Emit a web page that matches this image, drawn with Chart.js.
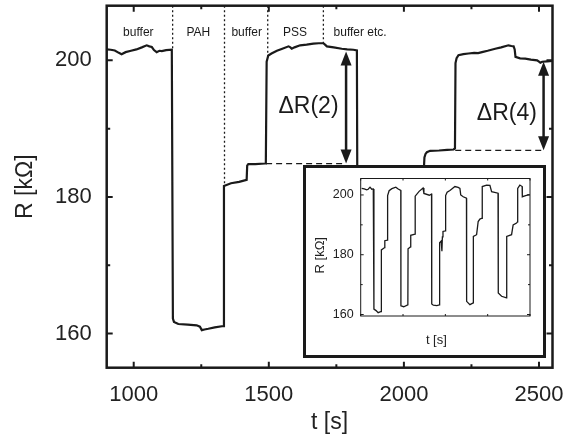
<!DOCTYPE html>
<html>
<head>
<meta charset="utf-8">
<script src="https://cdn.jsdelivr.net/npm/chart.js@4.4.1/dist/chart.umd.min.js"></script>
<style>
  body { margin: 0; background: #fff; }
  #wrap { position: relative; width: 572px; height: 442px; }
  canvas { display: block; }
  #inset { position: absolute; left: 303px; top: 165px; width: 237px; height: 187px;
           border: 3px solid #1a1a1a; background: #fff; }
</style>
</head>
<body>
<div id="wrap">
  <canvas id="mainChart" width="572" height="442"></canvas>
  <div id="inset"><canvas id="insetChart" width="237" height="187"></canvas></div>
</div>
<script>
// main trace, t [s] and R [kOhm]
const mainTime = [900, 915, 930, 945, 955, 970, 990, 1010, 1030, 1048, 1058, 1067, 1075, 1085, 1095, 1104, 1120, 1141,
  1145, 1149, 1165, 1200, 1233, 1245, 1252, 1262, 1276, 1300, 1332,
  1334, 1360, 1390, 1418, 1420, 1424, 1450, 1486, 1489,
  1492, 1498, 1510, 1530, 1550, 1573, 1580, 1585, 1595, 1616, 1640, 1665, 1685, 1702, 1708, 1715, 1740, 1770, 1790, 1813, 1826,
  1829, 1900, 1990, 2005, 2010, 2040, 2072, 2076, 2080, 2085, 2097, 2130, 2160, 2184, 2189,
  2191, 2195, 2202, 2220, 2239, 2260, 2275, 2289, 2310, 2338, 2360, 2387, 2398, 2406, 2410, 2413, 2430, 2449, 2470, 2493, 2500, 2505, 2512, 2530, 2550];
const mainRes = [201.6, 201.55, 201.45, 201.1, 200.9, 201.2, 201.4, 201.6, 201.9, 202.2, 202.05, 201.95, 201.5, 201.2, 201.4, 201.35, 201.5, 201.55,
  162.2, 161.7, 161.4, 161.3, 161.2, 161.0, 160.5, 160.6, 160.7, 160.9, 161.1,
  181.6, 182.0, 182.2, 182.5, 184.6, 184.8, 184.8, 184.9, 185.1,
  199.8, 200.7, 201.0, 201.4, 201.7, 202.05, 201.9, 201.7, 201.9, 202.2, 202.3, 202.45, 202.5, 202.5, 202.3, 202.05, 201.9, 201.7, 201.6, 201.55, 201.45,
  162.8, 162.6, 162.9, 163.2, 182.0, 182.3, 182.6, 185.8, 186.3, 186.55, 186.75, 186.8, 186.9, 186.95, 187.1,
  199.6, 200.3, 200.75, 200.9, 201.0, 201.1, 201.05, 201.2, 201.4, 201.7, 201.9, 202.2, 202.1, 202.05, 201.6, 200.5, 200.3, 200.25, 200.1, 200.0, 199.8, 199.65, 199.8, 199.85, 199.9];

// whole run for the inset
const insetTime = [835, 900, 962, 1000, 1046, 1090, 1129, 1143, 1147, 1200, 1252, 1332, 1334, 1418, 1421, 1488, 1492, 1530, 1600, 1700, 1760, 1826,
  1829, 1900, 2005, 2010, 2072, 2078, 2186, 2191, 2290, 2390, 2410, 2413, 2550, 2605,
  2610, 2650, 2740, 2805, 2810, 2850, 2868, 2880, 2895, 2955, 2962, 3000, 3071, 3197, 3280, 3324, 3345, 3408, 3490,
  3494, 3577, 3661, 3665, 3747, 3787, 3830, 3885, 3890, 4000, 4084, 4127, 4290,
  4296, 4380, 4506, 4510, 4633, 4673, 4759, 4783, 4788, 4843, 4901, 4905, 4970, 5053, 5090];
const insetRes = [202.2, 202.0, 201.7, 201.9, 202.6, 201.9, 202.0, 201.8, 161.8, 161.3, 160.6, 161.0, 181.6, 182.4, 184.7, 184.9, 199.8, 201.4, 202.1, 202.6, 202.0, 201.5,
  162.9, 162.6, 163.2, 182.0, 182.6, 186.5, 186.9, 199.6, 201.2, 202.3, 202.0, 200.5, 199.9, 200.3,
  163.5, 163.1, 163.0, 163.2, 184.0, 184.6, 181.2, 186.0, 187.8, 188.0, 199.8, 200.9, 201.5, 202.8, 202.5, 202.2, 200.0, 199.4, 198.9,
  164.4, 163.3, 163.9, 186.1, 186.7, 191.1, 191.9, 192.2, 202.8, 203.3, 203.2, 201.1, 200.6,
  167.2, 166.1, 165.6, 186.1, 186.7, 190.0, 190.6, 191.0, 202.2, 203.3, 202.8, 199.4, 199.7, 200.0, 200.1];

// annotations (data units)
const phaseNames = ['buffer', 'PAH', 'buffer', 'PSS', 'buffer etc.'];
const phaseLabelT = [1017, 1239, 1418, 1597, 1838];
const phaseLabelR = 204.05;
const boundaryT = [1144, 1336, 1496, 1702];
const boundaryEndR = [201.6, 181.7, 200.5, 202.4];
const baselineStartT = [1490, 2190];
const baselineEndT = [1786, 2517];
const baselineR = [184.88, 186.83];
const arrowT = [1786, 2517];
const arrowTopR = [201.3, 199.8];
const deltaLabels = ['ΔR(2)', 'ΔR(4)'];
const deltaLabelT = [1647, 2381];
const deltaLabelR = [193.2, 192.2];

const ink = '#1a1a1a';
Chart.defaults.font.family = '"Liberation Sans", Arial, sans-serif';
Chart.defaults.color = '#222';

function toPoints(xs, ys) {
  return xs.map((t, i) => ({ x: t, y: ys[i] }));
}

function segment(x1, y1, x2, y2, width, dash) {
  return {
    data: [{ x: x1, y: y1 }, { x: x2, y: y2 }],
    borderColor: ink, borderWidth: width, borderDash: dash,
    pointRadius: 0, tension: 0, fill: false
  };
}

// keep the plot box where we put it, labels must not push it in
function fixWidth(w) {
  return s => { s.width = w; s.paddingTop = 0; s.paddingBottom = 0; };
}
function fixHeight(h) {
  return s => { s.height = h; s.paddingLeft = 0; s.paddingRight = 0; };
}

// inward ticks on all four sides plus the box
function drawFrame(chart, o) {
  const { ctx, chartArea: a, scales: { x, y } } = chart;
  ctx.save();
  ctx.strokeStyle = ink;
  ctx.lineWidth = o.tickWidth;
  ctx.beginPath();
  x.ticks.forEach(t => {
    const px = x.getPixelForValue(t.value);
    const len = t.value % o.xMajor === 0 ? o.major : o.minor;
    ctx.moveTo(px, a.bottom); ctx.lineTo(px, a.bottom - len);
    ctx.moveTo(px, a.top); ctx.lineTo(px, a.top + len);
  });
  y.ticks.forEach(t => {
    const py = y.getPixelForValue(t.value);
    const len = t.value % o.yMajor === 0 ? o.major : o.minor;
    ctx.moveTo(a.left, py); ctx.lineTo(a.left + len, py);
    ctx.moveTo(a.right, py); ctx.lineTo(a.right - len, py);
  });
  ctx.stroke();
  ctx.lineWidth = o.frameWidth;
  ctx.strokeRect(a.left, a.top, a.right - a.left, a.bottom - a.top);
  ctx.restore();
}

function arrowHead(ctx, px, tip, dir) {
  ctx.beginPath();
  ctx.moveTo(px, tip);
  ctx.lineTo(px - 5.5, tip + dir * 14);
  ctx.lineTo(px + 5.5, tip + dir * 14);
  ctx.closePath();
  ctx.fill();
}

const mainFramePlugin = {
  id: 'mainFrame',
  afterDatasetsDraw(chart) {
    const { ctx, scales: { x, y } } = chart;
    drawFrame(chart, { tickWidth: 2, frameWidth: 2.5, major: 6, minor: 3.5, xMajor: 500, yMajor: 20 });
    ctx.save();
    ctx.fillStyle = ink;
    ctx.textAlign = 'center';
    ctx.textBaseline = 'middle';
    ctx.font = '12px "Liberation Sans", Arial, sans-serif';
    phaseNames.forEach((name, i) => {
      ctx.fillText(name, x.getPixelForValue(phaseLabelT[i]), y.getPixelForValue(phaseLabelR));
    });
    ctx.font = '23px "Liberation Sans", Arial, sans-serif';
    deltaLabels.forEach((txt, i) => {
      ctx.fillText(txt, x.getPixelForValue(deltaLabelT[i]), y.getPixelForValue(deltaLabelR[i]));
    });
    arrowT.forEach((t, i) => {
      const px = x.getPixelForValue(t);
      arrowHead(ctx, px, y.getPixelForValue(arrowTopR[i]), 1);
      arrowHead(ctx, px, y.getPixelForValue(baselineR[i]), -1);
    });
    ctx.restore();
  }
};

// inset axis titles sit a bit off centre in the original
const insetFramePlugin = {
  id: 'insetFrame',
  afterDatasetsDraw(chart) {
    const { ctx, chartArea: a } = chart;
    drawFrame(chart, { tickWidth: 1, frameWidth: 1, major: 3, minor: 2, xMajor: 2000, yMajor: 20 });
    ctx.save();
    ctx.fillStyle = '#222';
    ctx.font = '13px "Liberation Sans", Arial, sans-serif';
    ctx.textAlign = 'center';
    ctx.textBaseline = 'middle';
    ctx.fillText('t [s]', (a.left + a.right) / 2 - 9, 172);
    ctx.translate(14, (a.top + a.bottom) / 2 + 8);
    ctx.rotate(-Math.PI / 2);
    ctx.fillText('R [kΩ]', 0, 0);
    ctx.restore();
  }
};

const mainSets = [{
  data: toPoints(mainTime, mainRes),
  borderColor: ink, borderWidth: 2.2, pointRadius: 0, tension: 0, fill: false
}];
boundaryT.forEach((t, i) => mainSets.push(segment(t, 208, t, boundaryEndR[i], 1.3, [2, 2.5])));
baselineStartT.forEach((t, i) => mainSets.push(segment(t, baselineR[i], baselineEndT[i], baselineR[i], 1.3, [6, 4])));
arrowT.forEach((t, i) => mainSets.push(segment(t, arrowTopR[i] - 1, t, baselineR[i] + 1, 2.5, [])));

new Chart(document.getElementById('mainChart'), {
  type: 'line',
  data: { datasets: mainSets },
  options: {
    responsive: false,
    animation: false,
    layout: { padding: { left: 0, right: 19.5, top: 5.7, bottom: 0 } },
    plugins: { legend: { display: false }, tooltip: { enabled: false } },
    scales: {
      x: {
        type: 'linear', min: 900, max: 2550,
        grid: { display: false, drawTicks: false },
        border: { display: false },
        ticks: {
          stepSize: 250, includeBounds: false, autoSkip: false, maxRotation: 0, padding: 14,
          font: { size: 22 }, callback: v => (v % 500 === 0 ? v : '')
        },
        title: { display: true, text: 't [s]', font: { size: 23 }, padding: { top: 0, bottom: 6 } },
        afterFit: fixHeight(74.3)
      },
      y: {
        type: 'linear', min: 155, max: 208,
        grid: { display: false, drawTicks: false },
        border: { display: false },
        ticks: {
          stepSize: 10, includeBounds: false, autoSkip: false, padding: 15,
          font: { size: 22 }, callback: v => (v % 20 === 0 ? v : '')
        },
        title: { display: true, text: 'R [kΩ]', font: { size: 23 }, padding: { top: 12, bottom: 0 } },
        afterFit: fixWidth(106.7)
      }
    }
  },
  plugins: [mainFramePlugin]
});

new Chart(document.getElementById('insetChart'), {
  type: 'line',
  data: {
    datasets: [{
      data: toPoints(insetTime, insetRes),
      borderColor: ink, borderWidth: 1.3, pointRadius: 0, tension: 0, fill: false
    }]
  },
  options: {
    responsive: false,
    animation: false,
    layout: { padding: { left: 0, right: 13, top: 10.5, bottom: 0 } },
    plugins: { legend: { display: false }, tooltip: { enabled: false } },
    scales: {
      x: {
        type: 'linear', min: 810, max: 5100,
        grid: { display: false, drawTicks: false },
        border: { display: false },
        ticks: {
          stepSize: 1000, includeBounds: false, autoSkip: false, maxRotation: 0, padding: 3,
          font: { size: 12.5 }, callback: v => (v % 2000 === 0 ? v : '')
        },
        afterFit: fixHeight(39)
      },
      y: {
        type: 'linear', min: 159.5, max: 205.5,
        grid: { display: false, drawTicks: false },
        border: { display: false },
        ticks: {
          stepSize: 10, includeBounds: false, autoSkip: false, padding: 7,
          font: { size: 12.5 }, callback: v => (v % 20 === 0 ? v : '')
        },
        afterFit: fixWidth(54.7)
      }
    }
  },
  plugins: [insetFramePlugin]
});
</script>
</body>
</html>
